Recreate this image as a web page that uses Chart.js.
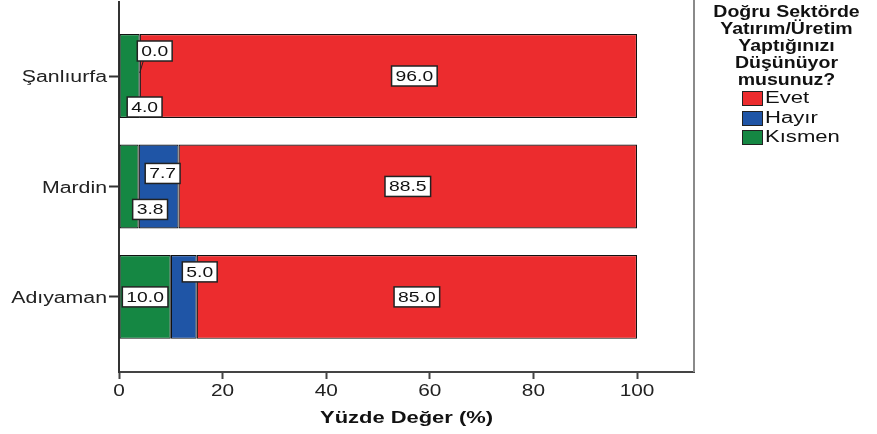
<!DOCTYPE html>
<html>
<head>
<meta charset="utf-8">
<script src="https://cdn.jsdelivr.net/npm/chart.js@4.4.1/dist/chart.umd.min.js"></script>
<style>
  body { margin: 0; background: #fff; }
  #wrap { position: relative; width: 877px; height: 434px; overflow: hidden; }
  #legend { position: absolute; left: 696px; top: 3px; width: 181px; font-family: "Liberation Sans", Arial, sans-serif; color: #111; }
  #legend .title { font-weight: bold; font-size: 16px; line-height: 17px; text-align: center; transform: scaleX(1.22); transform-origin: 50% 0; }
  #legend .item { position: absolute; left: 46px; height: 16px; font-size: 16px; line-height: 16px; white-space: nowrap; }
  #legend .sw { position: absolute; left: 0; top: 0; width: 19px; height: 13px; border: 1px solid #222; }
  #legend .lbl { position: absolute; left: 23px; top: -1px; transform: scaleX(1.38); transform-origin: 0 50%; }
</style>
</head>
<body>
<div id="wrap">
  <canvas id="chart" width="877" height="434"></canvas>
  <div id="legend"></div>
</div>
<script>
const categories = ["Şanlıurfa", "Mardin", "Adıyaman"];
const kismen = [4.0, 3.8, 10.0];
const hayir = [0.0, 7.7, 5.0];
const evet = [96.0, 88.5, 85.0];
const xTicks = [0, 20, 40, 60, 80, 100];

const legendTitle = ["Doğru Sektörde", "Yatırım/Üretim", "Yaptığınızı", "Düşünüyor", "musunuz?"];
const xTitle = "Yüzde Değer (%)";

const COLORS = { evet: "#ec2c2e", hayir: "#1f55a6", kismen: "#158743" };
const FONT = '"Liberation Sans", Arial, sans-serif';

// label nudges in px [dx, dy], per dataset (kismen, hayir, evet) and category
const labelNudge = [
  [[15, 31], [21, 23], [0, 0]],
  [[15, -25], [4, -13], [16, -25]],
  [[26, 0], [0, 0], [0, 0]],
];

const drawStretched = (ctx, text, x, y, align, font, sx, color) => {
  ctx.save();
  ctx.font = font;
  ctx.fillStyle = color || "#222";
  ctx.textAlign = align;
  ctx.textBaseline = "middle";
  ctx.translate(x, y);
  ctx.scale(sx, 1);
  ctx.fillText(text, 0, 0);
  ctx.restore();
};

const axisText = {
  id: "axisText",
  afterDraw(chart) {
    const { ctx, scales, chartArea } = chart;
    // right frame
    ctx.save();
    ctx.strokeStyle = "#8a8a8a";
    ctx.lineWidth = 2;
    ctx.beginPath();
    ctx.moveTo(chartArea.right, 0);
    ctx.lineTo(chartArea.right, chartArea.bottom);
    ctx.stroke();
    ctx.restore();

    scales.y.ticks.forEach((t) => {
      drawStretched(ctx, categories[t.value], chartArea.left - 12, scales.y.getPixelForValue(t.value) + 2,
        "right", "16px " + FONT, 1.33);
    });
    scales.x.ticks.forEach((t) => {
      drawStretched(ctx, String(t.value), scales.x.getPixelForValue(t.value), chartArea.bottom + 20,
        "center", "16px " + FONT, 1.3);
    });
    drawStretched(ctx, xTitle, (chartArea.left + chartArea.right) / 2, chartArea.bottom + 47,
      "center", "bold 16px " + FONT, 1.37, "#111");
  },
};

const valueLabels = {
  id: "valueLabels",
  afterDatasetsDraw(chart) {
    const { ctx } = chart;
    const sx = 1.38;
    ctx.save();
    ctx.font = "14px " + FONT;
    chart.data.datasets.forEach((ds, di) => {
      const meta = chart.getDatasetMeta(di);
      meta.data.forEach((el, i) => {
        const v = ds.data[i].x;
        const text = v.toFixed(1);
        const [dx, dy] = labelNudge[di][i];
        const cx = (el.x + el.base) / 2 + dx;
        const cy = el.y + dy;
        const w = ctx.measureText(text).width * sx + 8;
        const h = 20;
        if (v === 0) {
          ctx.strokeStyle = "#222";
          ctx.lineWidth = 1;
          ctx.beginPath();
          ctx.moveTo(el.x, el.y - 3);
          ctx.lineTo(cx - w / 2 + 6, cy + h / 2);
          ctx.stroke();
        }
        ctx.fillStyle = "#fff";
        ctx.fillRect(cx - w / 2, cy - h / 2, w, h);
        ctx.strokeStyle = "#222";
        ctx.lineWidth = 1.5;
        ctx.strokeRect(cx - w / 2, cy - h / 2, w, h);
        drawStretched(ctx, text, cx, cy + 1, "center", "14px " + FONT, sx, "#111");
      });
    });
    ctx.restore();
  },
};

const toPoints = (arr) => arr.map((v, i) => ({ x: v, y: i }));

const buildLegend = () => {
  const el = document.getElementById("legend");
  const title = document.createElement("div");
  title.className = "title";
  title.innerHTML = legendTitle.join("<br>");
  el.appendChild(title);
  [["Evet", COLORS.evet], ["Hayır", COLORS.hayir], ["Kısmen", COLORS.kismen]].forEach(([name, color], i) => {
    const item = document.createElement("div");
    item.className = "item";
    item.style.top = 88 + i * 19.5 + "px";
    item.innerHTML = '<span class="sw" style="background:' + color + '"></span><span class="lbl">' + name + "</span>";
    el.appendChild(item);
  });
};

const initChart = () => {
  const ctx = document.getElementById("chart").getContext("2d");
  new Chart(ctx, {
    type: "bar",
    data: {
      datasets: [
        { label: "Kısmen", data: toPoints(kismen), backgroundColor: COLORS.kismen },
        { label: "Hayır", data: toPoints(hayir), backgroundColor: COLORS.hayir },
        { label: "Evet", data: toPoints(evet), backgroundColor: COLORS.evet },
      ],
    },
    options: {
      indexAxis: "y",
      responsive: false,
      animation: false,
      events: [],
      layout: { padding: { top: 2, right: 183, left: 0, bottom: 0 } },
      datasets: {
        bar: {
          borderColor: "#111",
          borderWidth: 1.2,
          borderSkipped: false,
          barPercentage: 0.95,
          categoryPercentage: 0.8,
        },
      },
      plugins: { legend: { display: false }, tooltip: { enabled: false } },
      scales: {
        x: {
          type: "linear",
          stacked: true,
          min: 0,
          max: 111,
          afterBuildTicks: (scale) => { scale.ticks = xTicks.map((v) => ({ value: v })); },
          afterFit: (scale) => { scale.height = 62; },
          ticks: { display: false },
          grid: { drawOnChartArea: false, tickLength: 7, color: "#444", tickWidth: 2 },
          border: { color: "#444", width: 2 },
        },
        y: {
          type: "linear",
          stacked: true,
          reverse: true,
          offset: false,
          min: -0.67,
          max: 2.68,
          afterBuildTicks: (scale) => { scale.ticks = categories.map((_, i) => ({ value: i })); },
          afterFit: (scale) => { scale.width = 119; },
          ticks: { display: false },
          grid: { offset: false, drawOnChartArea: false, tickLength: 10, color: "#333", tickWidth: 2 },
          border: { color: "#333", width: 2 },
        },
      },
    },
    plugins: [valueLabels, axisText],
  });
};

window.addEventListener("DOMContentLoaded", () => {
  buildLegend();
  initChart();
});
</script>
</body>
</html>
